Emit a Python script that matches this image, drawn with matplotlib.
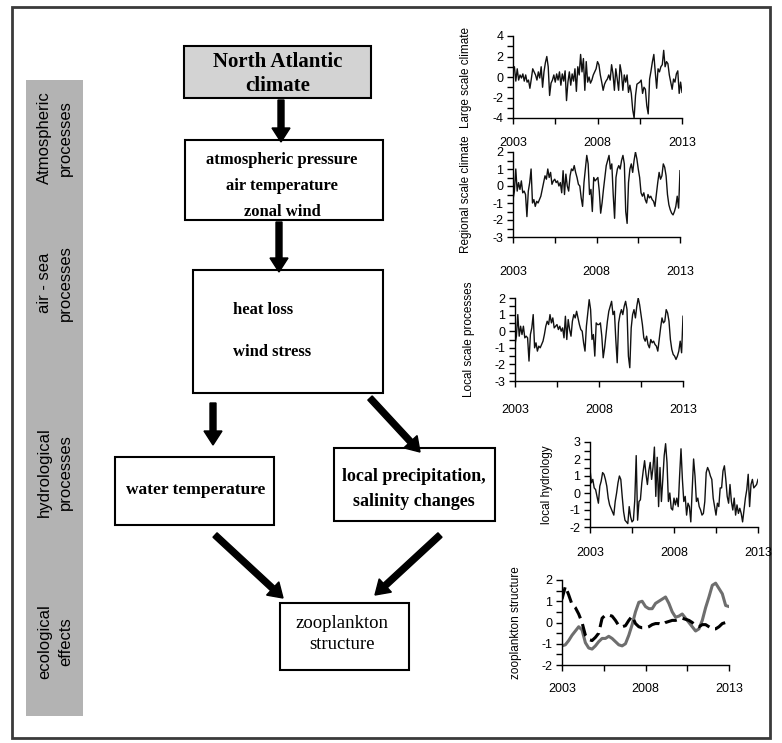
import numpy as np
import matplotlib
matplotlib.use('Agg')
import matplotlib.pyplot as plt
from matplotlib.patches import Rectangle, FancyArrow
from matplotlib.ticker import MultipleLocator, FixedLocator

plt.rcParams['font.family'] = ['Liberation Sans', 'DejaVu Sans']
plt.rcParams['axes.unicode_minus'] = False

W, H = 782, 743

# monthly series 2003-2013
large_scale = [0.8, 1.0, -0.4, 0.8, -0.3, 0.2, -0.1, 0.3, -0.4, 0.2, -0.5, -0.3,
               -1.1, -0.2, 0.8, 0.5, 0.2, -0.3, 0.5, -0.1, 1.0, -1.0, 0.5, 1.4,
               2.0, 1.0, -1.8, -0.6, -0.3, 0.2, -0.5, 0.3, -0.3, 0.5, -0.8, 0.3,
               -0.4, 0.6, -2.3, -0.5, 0.5, -0.8, 0.3, -0.4, 0.8, -1.4, 1.0, 0.2,
               2.2, 0.5, 1.8, -1.3, 1.5, -0.5, 0.0, -0.6, -0.3, 0.2, 0.5, 0.8,
               1.5, 1.2, 0.2, -0.5, -1.3, -0.7, -0.4, -0.2, 0.2, -0.3, 1.2, 0.3,
               -1.3, 0.8, -0.2, -1.3, 1.2, 0.4, -1.3, 0.2, -0.5, 0.2, -1.5, -0.8,
               -1.6, -3.2, -4.0, -1.8, -0.7, -0.6, -0.5, -0.3, -1.6, -1.0, -1.2, -2.8,
               -3.6, -0.2, 0.6, 1.5, 2.2, 0.5, -1.1, 0.8, 0.5, 1.0, 1.2, 2.6,
               1.0, 1.5, 1.3, 0.2, -0.5, -1.2, -0.2, -0.5, 0.3, 0.6, -1.6, -0.5,
               -1.5]

regional_scale = [-0.8, -0.3, 1.0, -0.3, 0.2, -0.2, 0.3, -0.4, -0.3, -0.5, -1.8, -0.3,
                  0.2, 1.0, -1.0, -0.8, -1.2, -0.9, -1.0, -0.8, -0.6, -0.2, 0.2, 0.6,
                  0.4, 1.0, 0.5, 0.8, 0.1, 0.3, 0.4, 0.2, 0.3, 0.0, 0.2, -0.4,
                  0.9, -0.5, 0.7, 0.0, -0.3, 0.6, 1.0, 0.9, 1.2, 0.8, 0.5, 0.1,
                  0.0, -0.7, -1.2, 0.2, 1.0, 1.8, 1.3, -0.5, -0.2, -1.5, 0.5, 0.3,
                  0.4, 0.5, -0.3, -1.6, -1.0, -0.2, 0.5, 1.2, 1.5, 1.8, 1.0, 1.3,
                  -0.5, -1.9, 0.5, 1.0, 1.2, 1.0, 1.5, 1.8, 1.3, -1.5, -2.2, 0.2,
                  1.0, 1.3, 0.8, 1.5, 2.0, 1.6, 1.0, 0.5, -0.4, -0.6, -0.4, -0.8,
                  -1.0, -0.5, -0.7, -0.6, -0.8, -0.9, -1.2, -0.5, 0.2, 0.8, 0.4, 0.6,
                  1.3, 1.1, 0.6, -0.5, -1.1, -1.4, -1.6, -1.7, -1.5, -1.2, -0.6, -1.3,
                  0.9]

local_scale = [-0.8, -0.3, 1.0, -0.3, 0.3, -0.2, 0.3, -0.4, -0.3, -0.4, -1.8, -0.2,
               0.2, 1.0, -1.0, -0.7, -1.2, -0.9, -1.0, -0.8, -0.6, -0.2, 0.3, 0.6,
               0.4, 1.0, 0.5, 0.8, 0.2, 0.3, 0.4, 0.1, 0.3, 0.0, 0.2, -0.4,
               0.9, -0.5, 0.7, 0.1, -0.3, 0.6, 1.0, 0.8, 1.2, 0.8, 0.4, 0.1,
               0.0, -0.7, -1.2, 0.3, 1.1, 1.9, 1.3, -0.5, -0.2, -1.5, 0.5, 0.4,
               0.4, 0.5, -0.3, -1.6, -1.0, -0.2, 0.6, 1.2, 1.5, 1.8, 1.0, 1.2,
               -0.5, -1.9, 0.5, 1.0, 1.3, 1.0, 1.5, 1.8, 1.3, -1.5, -2.2, 0.2,
               1.0, 1.3, 0.8, 1.5, 2.0, 1.6, 1.0, 0.4, -0.4, -0.6, -0.3, -0.8,
               -1.0, -0.5, -0.7, -0.6, -0.8, -0.9, -1.2, -0.5, 0.2, 0.8, 0.5, 0.6,
               1.3, 1.1, 0.6, -0.5, -1.1, -1.4, -1.5, -1.7, -1.5, -1.2, -0.6, -1.3,
               0.9]

local_hydrology = [1.4, 0.6, 0.8, 0.3, 0.2, -0.2, -0.6, 0.4, 0.7, 1.2, 1.1, 0.8,
                   0.4, -0.3, -0.7, -0.9, -1.1, -1.3, -0.5, 0.0, 0.6, 1.0, 0.8, -0.2,
                   -1.1, -1.6, -1.7, -1.8, -0.8, -1.4, -1.7, -1.6, -0.4, 2.2, -1.6, -0.5,
                   -0.4, 0.6, 1.3, 1.9, 1.1, 0.5, 1.3, 1.8, 0.8, 1.5, 2.7, -0.2,
                   2.1, -0.8, 1.5, -0.5, 0.8, 2.2, 2.9, 1.8, -0.5, 0.0, -0.9, -1.0,
                   -0.3, -0.7, -0.3, -0.8, 1.0, 2.6, 0.8, -0.5, -0.2, -1.3, -0.6, -0.8,
                   -1.7, 0.2, 2.0, 1.0, -0.5, -0.3, -0.8, -1.0, -1.3, -1.2, -0.5, 1.2,
                   1.5, 1.3, 1.0, 0.8, -0.3, -0.8, -1.3, -0.6, -0.8, 0.3, 0.3, 1.3,
                   1.6, 0.8, -0.2, -0.6, 0.5, -0.5, -1.0, -0.3, -1.3, -0.7, -1.2, -0.9,
                   -1.2, -1.7, -1.0, -0.3, 0.2, 1.1, -0.8, 0.5, 0.8, 0.3, 0.4, 0.5,
                   0.8]

# zooplankton indices, every 0.2 yr
zoo_solid = [-1.1, -1.05, -0.85, -0.6, -0.4, -0.2, -0.35, -0.95, -1.2, -1.25,
             -1.1, -0.9, -0.75, -0.75, -0.65, -0.75, -0.9, -1.05, -1.1, -1.0,
             -0.6, -0.1, 0.5, 0.95, 1.0, 0.75, 0.65, 0.65, 0.9, 1.0,
             1.1, 1.2, 0.9, 0.5, 0.25, 0.3, 0.4, 0.2, 0.0, -0.2,
             -0.4, -0.3, 0.1, 0.7, 1.2, 1.75, 1.85, 1.6, 1.35, 0.8,
             0.75]
zoo_dashed = [1.1, 1.7, 1.3, 0.85, 0.7, 0.4, 0.0, -0.6, -0.8, -0.85,
              -0.7, -0.5, 0.2, 0.35, 0.35, 0.3, 0.1, -0.15, -0.2, -0.15,
              0.1, 0.3, -0.05, -0.2, -0.25, -0.25, -0.2, -0.1, -0.05, -0.05,
              -0.1, 0.0, 0.05, 0.1, 0.1, 0.15, 0.2, 0.15, 0.1, 0.0,
              -0.15, -0.2, -0.1, -0.1, -0.2, -0.3, -0.3, -0.2, -0.05, 0.0,
              0.05]

year_ticks = [2003, 2008, 2013]
band_labels = ['Atmospheric\nprocesses', 'air - sea\nprocesses',
               'hydrological\nprocesses', 'ecological\neffects']

fig = plt.figure(figsize=(W / 100, H / 100), dpi=100)

# background diagram drawn in pixel coordinates
ax = fig.add_axes([0, 0, 1, 1])
ax.set_xlim(0, W)
ax.set_ylim(H, 0)
ax.axis('off')

ax.add_patch(Rectangle((12, 7), 758, 731, fill=False, edgecolor='#3a3a3a', lw=2))
ax.add_patch(Rectangle((26, 80), 57, 636, facecolor='#b3b3b3', edgecolor='none'))
for lab, yc in zip(band_labels, [138, 283, 472, 642]):
    ax.text(55, yc, lab, rotation=90, ha='center', va='center', fontsize=12,
            linespacing=1.5)

serif = 'Liberation Serif'
boxes = [(184, 46, 187, 52, '#d3d3d3'), (185, 140, 198, 80, 'white'),
         (193, 270, 190, 123, 'white'), (115, 457, 159, 68, 'white'),
         (334, 448, 161, 73, 'white'), (280, 603, 129, 67, 'white')]
for x0, y0, w, h, fc in boxes:
    ax.add_patch(Rectangle((x0, y0), w, h, facecolor=fc, edgecolor='black', lw=1.5))

ax.text(278, 74, 'North Atlantic\nclimate', ha='center', va='center', fontsize=15,
        fontweight='bold', family=serif, linespacing=1.3)
ax.text(282, 186, 'atmospheric pressure\nair temperature\nzonal wind', ha='center',
        va='center', fontsize=12, fontweight='bold', family=serif, linespacing=1.85)
ax.text(233, 310, 'heat loss', ha='left', va='center', fontsize=12,
        fontweight='bold', family=serif)
ax.text(233, 352, 'wind stress', ha='left', va='center', fontsize=12,
        fontweight='bold', family=serif)
ax.text(196, 490, 'water temperature', ha='center', va='center', fontsize=12.5,
        fontweight='bold', family=serif)
ax.text(414, 489, 'local precipitation,\nsalinity changes', ha='center', va='center',
        fontsize=13, fontweight='bold', family=serif, linespacing=1.55)
ax.text(342, 634, 'zooplankton\nstructure', ha='center', va='center', fontsize=13.5,
        family=serif, linespacing=1.25)

arrows = [(281, 100, 281, 142), (279, 222, 279, 272), (213, 403, 213, 445),
          (370, 398, 420, 452), (215, 535, 283, 598), (440, 535, 375, 595)]
for x0, y0, x1, y1 in arrows:
    ax.add_patch(FancyArrow(x0, y0, x1 - x0, y1 - y0, width=6, head_width=18,
                            head_length=14, length_includes_head=True,
                            color='black'))


def small_axes(x0, y0, x1, y1):
    return fig.add_axes([x0 / W, 1 - y1 / H, (x1 - x0) / W, (y1 - y0) / H])


months = 2003 + np.arange(121) / 12.0
zoo_t = 2003 + np.arange(51) * 0.2

panels = [
    ((513, 36, 682, 118), (-4, 4), 2, 1, 'Large scale climate', 472, 10.0, [large_scale]),
    ((513, 152, 680, 237), (-3, 2), 1, 0.5, 'Regional scale climate', 472, 16.9, [regional_scale]),
    ((515, 298, 683, 381), (-3, 2), 1, 0.5, 'Local scale processes', 475, 12.6, [local_scale]),
    ((590, 442, 758, 527), (-2, 3), 1, 0.5, 'local hydrology', 553, 10.4, [local_hydrology]),
    ((562, 580, 729, 665), (-2, 2), 1, 0.5, 'zooplankton structure', 522, 9.0, None),
]

for box, ylim, major, minor, ylab, labx, xpad, series in panels:
    a = small_axes(*box)
    if series is None:
        a.plot(zoo_t, zoo_solid, color='#6e6e6e', lw=2.2)
        a.plot(zoo_t, zoo_dashed, color='black', lw=2.2, dashes=(4, 2))
    else:
        a.plot(months, series[0], color='#111111', lw=1.0)
    a.set_xlim(2003, 2013)
    a.set_ylim(*ylim)
    a.patch.set_alpha(0)
    for s in ['top', 'right']:
        a.spines[s].set_visible(False)
    for s in ['left', 'bottom']:
        a.spines[s].set_linewidth(1.0)
    a.set_xticks(year_ticks)
    a.xaxis.set_minor_locator(FixedLocator([2005.5, 2010.5]))
    a.yaxis.set_major_locator(MultipleLocator(major))
    a.yaxis.set_minor_locator(MultipleLocator(minor))
    a.tick_params(which='both', direction='out', length=4, width=1)
    a.tick_params(axis='x', pad=xpad, labelsize=9)
    a.tick_params(axis='y', pad=3, labelsize=9)
    a.set_ylabel(ylab, fontsize=8.5)
    a.yaxis.set_label_coords((labx - box[0]) / (box[2] - box[0]), 0.5)

fig.savefig('out.png', dpi=100)
